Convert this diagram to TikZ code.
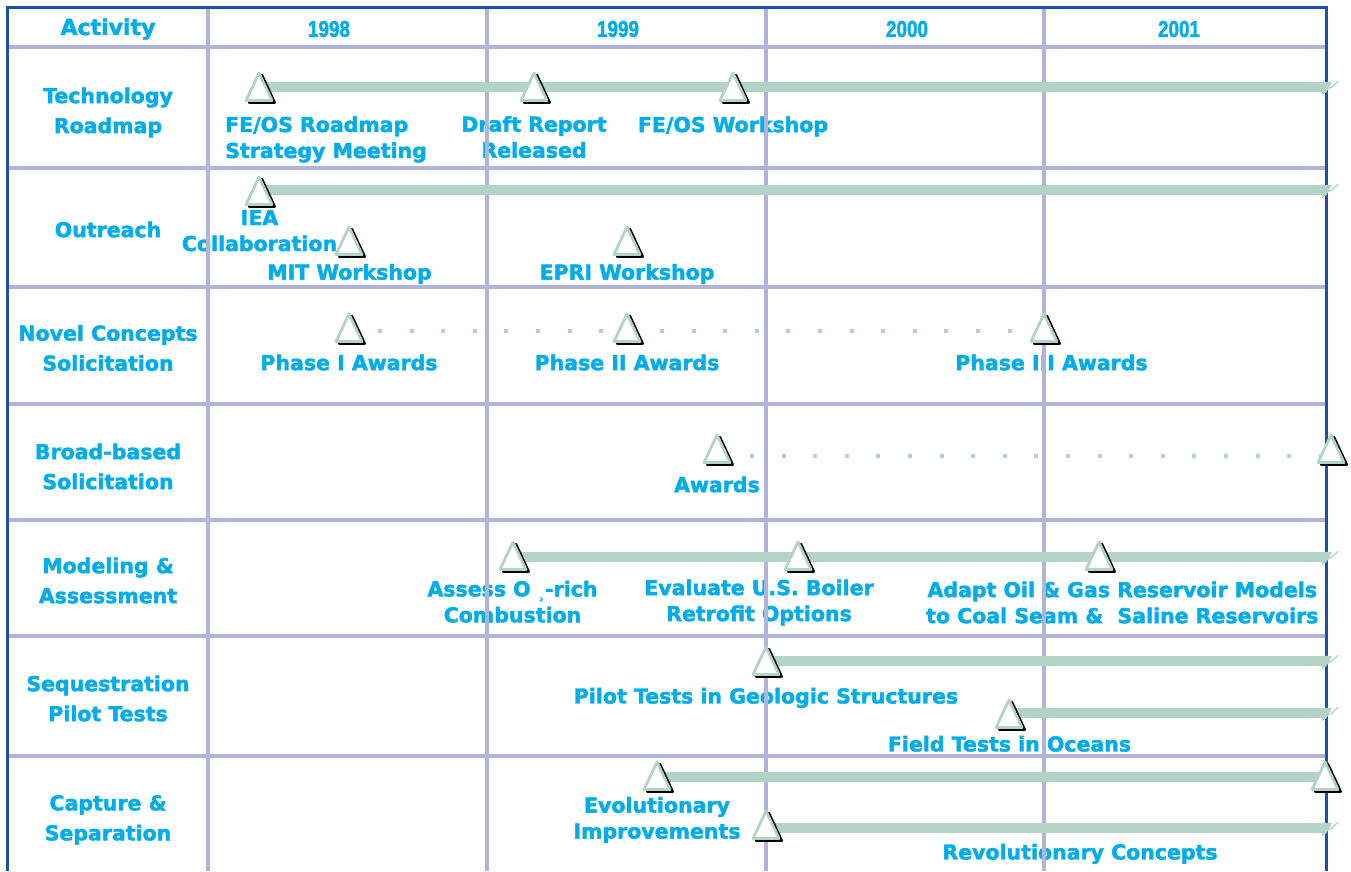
\documentclass[tikz,border=0pt]{standalone}
\usepackage{fontspec}
\usepackage{graphicx}
\setmainfont{DejaVu Sans}[BoldFeatures={FakeBold=2}]
\newfontfamily\yearfont{Liberation Sans}[BoldFeatures={FakeBold=2}]
\definecolor{txt}{RGB}{0,172,236}
\definecolor{gridc}{RGB}{176,180,218}
\definecolor{framec}{RGB}{26,80,166}
\definecolor{barg}{RGB}{179,211,198}
\begin{document}
\begin{tikzpicture}[x=1pt,y=-1pt,
  lab/.style={text=txt, font=\fontsize{20.5}{26}\selectfont\bfseries, align=center, inner sep=0pt},
  rowlab/.style={text=txt, font=\fontsize{20.5}{30}\selectfont\bfseries, align=center, inner sep=0pt},
  yearlab/.style={text=txt, font=\yearfont\bfseries\fontsize{23}{23}\selectfont, inner sep=0pt},
  gridline/.style={gridc, line width=3.2pt},
  frameline/.style={framec, line width=3pt},
  bar/.style={barg, line width=10.5pt},
  barend/.style={barg},
  dotline/.style={barg, line width=4pt, dash pattern=on 4pt off 27.6pt},
  zig/.style={barg, line width=1.3pt},
  ms/.pic={
    \draw[black, line width=2.3pt, line join=round] (3,-12) -- (15.8,15.6) -- (-9.8,15.6) -- cycle;
    \draw[barg, line width=2.8pt, line join=round, fill=white] (0,-14) -- (13,13.5) -- (-13,13.5) -- cycle;
  }]
\useasboundingbox (0,0) rectangle (1351,871);

% ---------- header ----------
\node[rowlab, font=\fontsize{22}{26}\selectfont\bfseries] (hact) at (108,29) {Activity};
\node[yearlab] (y98) at (329,29) {\scalebox{0.82}[1]{1998}};
\node[yearlab] (y99) at (618,29) {\scalebox{0.82}[1]{1999}};
\node[yearlab] (y00) at (907,29) {\scalebox{0.82}[1]{2000}};
\node[yearlab] (y01) at (1179,29) {\scalebox{0.82}[1]{2001}};

% ---------- row labels ----------
\node[rowlab] (rtech) at (108,112.4) {Technology\\Roadmap};
\node[rowlab] (rout) at (108,229.5) {Outreach};
\node[rowlab] (rnovel) at (108,348) {Novel Concepts\\Solicitation};
\node[rowlab] (rbroad) at (108,466.5) {Broad-based\\Solicitation};
\node[rowlab] (rmodel) at (108,580.5) {Modeling \&\\Assessment};
\node[rowlab] (rseq) at (108,698.5) {Sequestration\\Pilot Tests};
\node[rowlab] (rcap) at (108,819.9) {Capture \&\\Separation};

% ---------- milestone labels ----------
\node[lab, align=left, anchor=west] (l11) at (225,139.4) {FE/OS Roadmap\\Strategy Meeting};
\node[lab] (l12) at (534,137) {Draft Report\\Released};
\node[lab] (l13) at (733,126.4) {FE/OS Workshop};
\node[lab] (l21) at (259.5,230.7) {IEA\\Collaboration};
\node[lab] (l22) at (349.5,273.9) {MIT Workshop};
\node[lab] (l23) at (627,273.9) {EPRI Workshop};
\node[lab] (l31) at (349,362.5) {Phase I Awards};
\node[lab] (l32) at (627,362.5) {Phase II Awards};
\node[lab] (l33) at (1051.5,362.5) {Phase III Awards};
\node[lab] (l41) at (717,484.5) {Awards};
\node[lab] (l51) at (512.5,601.7) {Assess O\hspace{9pt}\raisebox{-5pt}{\fontsize{5}{5}\selectfont 2}\hspace{2pt}-rich\\Combustion};
\node[lab] (l52) at (759,602.4) {Evaluate U.S. Boiler\\Retrofit Options};
\node[lab] (l53) at (1122.3,602.5) {Adapt Oil \& Gas Reservoir Models\\to Coal Seam \&\ \ Saline Reservoirs};
\node[lab] (l61) at (766,697.9) {Pilot Tests in Geologic Structures};
\node[lab] (l62) at (1009.5,743.8) {Field Tests in Oceans};
\node[lab] (l71) at (657,819.9) {Evolutionary\\Improvements};
\node[lab] (l72) at (1080,853.9) {Revolutionary Concepts};

% ---------- grid ----------
\foreach \x in {208,487,766,1044} \draw[gridline] (\x,7) -- (\x,871);
\foreach \y in {47,168,287,404,520,636,756} \draw[gridline] (7,\y) -- (1326,\y);
\draw[frameline] (7,871) -- (7,7) -- (1326,7) -- (1326,871);

% ---------- milestone positions ----------
\coordinate (t11) at (259,87);
\coordinate (t12) at (534,87);
\coordinate (t13) at (733,87);
\coordinate (e1) at (1322,87);
\coordinate (t21) at (259,191);
\coordinate (e2) at (1322,190);
\coordinate (t22) at (349,241);
\coordinate (t23) at (627,241);
\coordinate (t31) at (349,328);
\coordinate (t32) at (627,328);
\coordinate (t33) at (1044,328);
\coordinate (t41) at (717,449);
\coordinate (t42) at (1331,449);
\coordinate (t51) at (513,556);
\coordinate (t52) at (798,556);
\coordinate (t53) at (1099,556);
\coordinate (e5) at (1322,557);
\coordinate (t61) at (766,661);
\coordinate (e6) at (1322,661);
\coordinate (t62) at (1009,714);
\coordinate (e7) at (1322,713);
\coordinate (t71) at (657,776);
\coordinate (t72) at (1325,776);
\coordinate (t73) at (766,825);
\coordinate (e8) at (1322,828);

% ---------- bars ----------
\foreach \s/\e in {t11/e1,t21/e2,t51/e5,t61/e6,t62/e7,t73/e8}{
  \draw[bar] (\s |- \e) -- ([xshift=0.5pt]\e);
  \fill[barend] ([shift={(0pt,5.25pt)}]\e) -- ++(10pt,0pt) -- ++(-2.5pt,-4.6pt) -- ++(-0.5pt,-0.6pt) -- ++(-3pt,-5.9pt) -- ++(-4pt,0pt) -- cycle;
  \draw[zig] ([shift={(0pt,-7.5pt)}]\e) -- ++(7pt,6.6pt) -- ++(2.2pt,0.3pt) -- ++(7pt,6.6pt);
}
\draw[bar] ([yshift=-1pt]t71) -- ([yshift=-1pt]t72);

% ---------- dotted links ----------
\draw[dotline, dash phase=2.6pt] ([yshift=-3pt]t31) -- ([yshift=-3pt]t32);
\draw[dotline, dash phase=30.2pt] ([yshift=-3pt]t32) -- ([yshift=-3pt]t33);
\draw[dotline, dash phase=30.2pt] ([yshift=-7pt]t41) -- ([yshift=-7pt]t42);

% ---------- milestones ----------
\foreach \t in {t11,t12,t13,t21,t22,t23,t31,t32,t33,t41,t42,t51,t52,t53,t61,t62,t71,t72,t73}
  \pic at (\t) {ms};
\end{tikzpicture}
\end{document}
